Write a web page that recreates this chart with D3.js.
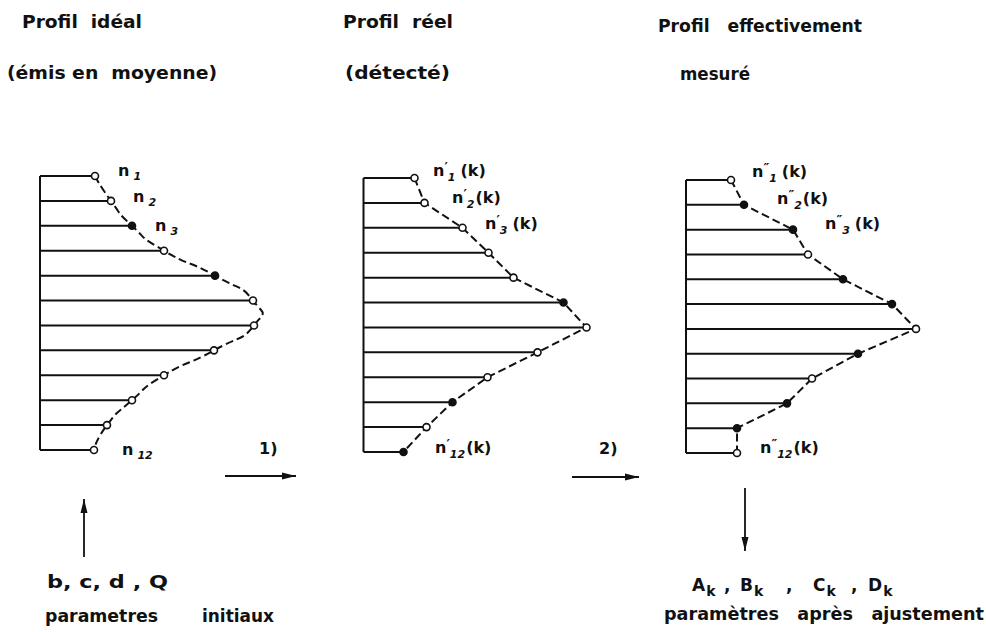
<!DOCTYPE html>
<html>
<head>
<meta charset="utf-8">
<script src="https://cdn.jsdelivr.net/npm/d3@7"></script>
<style>
  body { margin: 0; background: #fff; }
  svg { display: block; }
  text { font-family: "DejaVu Sans", sans-serif; font-weight: bold; fill: #111; }
</style>
</head>
<body>
<script>
// 12 channels, lengths (same units for the three profiles)
const rows = d3.range(1, 13)

const idealValues = [55, 71, 92, 124, 175, 213, 214, 174, 124, 92, 67, 54]
const idealFilled = [0, 0, 1, 0, 1, 0, 0, 0, 0, 0, 0, 0]

const detectedValues = [51, 61, 99, 125, 150, 200, 223, 174, 124, 89, 63, 40]
const detectedFilled = [0, 0, 0, 0, 0, 1, 0, 0, 0, 1, 0, 1]

const measuredValues = [45, 58, 107, 122, 157, 206, 230, 172, 126, 101, 51, 51]
const measuredFilled = [0, 1, 1, 0, 1, 1, 0, 1, 0, 1, 1, 0]

const titles = [
  ['Profil  idéal', '(émis en  moyenne)'],
  ['Profil  réel', '(détecté)'],
  ['Profil   effectivement', 'mesuré'],
]
const pointLabels = [
  { sym: 'n', prime: '', subs: ['1', '2', '3', '12'], suffix: '' },
  { sym: 'n', prime: '′', subs: ['1', '2', '3', '12'], suffix: '(k)' },
  { sym: 'n', prime: '″', subs: ['1', '2', '3', '12'], suffix: '(k)' },
]
const inputParams = 'b, c, d , Q'
const outputParams = ['A', 'B', 'C', 'D']

const WIDTH = 986
const HEIGHT = 632

const svg = d3.select('body').append('svg')
  .attr('width', WIDTH)
  .attr('height', HEIGHT)

const defs = svg.append('defs')
defs.append('marker')
  .attr('id', 'head')
  .attr('viewBox', '0 0 14 8')
  .attr('refX', 14)
  .attr('refY', 4)
  .attr('markerWidth', 14)
  .attr('markerHeight', 8)
  .attr('markerUnits', 'userSpaceOnUse')
  .attr('orient', 'auto')
  .append('path')
  .attr('d', 'M0,0.5 L14,4 L0,7.5 Z')
  .attr('fill', '#111')

const x = d3.scaleLinear().domain([0, 240]).range([0, 240])

const panels = [
  { values: idealValues, filled: idealFilled, axis: 40, top: 176, bottom: 450,
    curve: d3.curveCardinal.tension(-0.9),
    labels: [[118, 172], [133, 198], [155, 227], [122, 451]] },
  { values: detectedValues, filled: detectedFilled, axis: 363.5, top: 178, bottom: 452,
    curve: d3.curveLinear,
    labels: [[433, 172], [452, 199], [485, 225], [435, 449]] },
  { values: measuredValues, filled: measuredFilled, axis: 686, top: 180, bottom: 453,
    curve: d3.curveLinear,
    labels: [[752, 173], [777, 200], [825, 225], [760, 449]] },
]

panels.forEach((p, pi) => {
  const y = d3.scalePoint().domain(rows).range([p.top, p.bottom])
  const g = svg.append('g').attr('transform', `translate(${p.axis},0)`)
  const pts = rows.map((r, i) => ({ r, v: p.values[i], f: p.filled[i] }))

  g.append('line')
    .attr('x1', 0).attr('x2', 0)
    .attr('y1', y(1)).attr('y2', y(12))
    .attr('stroke', '#111').attr('stroke-width', 2)

  g.selectAll('line.bar')
    .data(pts)
    .enter()
    .append('line')
    .attr('class', 'bar')
    .attr('x1', 0)
    .attr('x2', d => x(d.v))
    .attr('y1', d => y(d.r))
    .attr('y2', d => y(d.r))
    .attr('stroke', '#111')
    .attr('stroke-width', 2)

  const line = d3.line()
    .x(d => x(d.v))
    .y(d => y(d.r))
    .curve(p.curve)

  g.append('path')
    .datum(pts)
    .attr('d', line)
    .attr('fill', 'none')
    .attr('stroke', '#111')
    .attr('stroke-width', 2)
    .attr('stroke-dasharray', '8,4')

  g.selectAll('circle')
    .data(pts)
    .enter()
    .append('circle')
    .attr('cx', d => x(d.v))
    .attr('cy', d => y(d.r))
    .attr('r', 3.5)
    .attr('fill', d => d.f ? '#111' : '#fff')
    .attr('stroke', '#111')
    .attr('stroke-width', 1.6)

  // n labels
  const lab = pointLabels[pi]
  lab.subs.forEach((s, i) => {
    const [lx, ly] = p.labels[i]
    const t = svg.append('text')
      .attr('x', lx)
      .attr('y', ly + 4)
      .attr('font-size', 16)
    t.append('tspan').text(lab.sym)
    if (lab.prime) {
      t.append('tspan').attr('font-size', 13).attr('dy', -5).attr('dx', 0).text(lab.prime)
      t.append('tspan').attr('font-size', 11).attr('font-style', 'italic')
        .attr('dx', 0).attr('dy', 10).text(s)
      t.append('tspan').attr('font-size', 16).attr('dy', -5)
        .attr('dx', i === 0 || i === 2 ? 5 : 1).text(lab.suffix)
    } else {
      t.append('tspan').attr('font-size', 11).attr('font-style', 'italic')
        .attr('dx', 4).attr('dy', 4).text(s)
    }
  })

  // titles
  const tx = [[22, 7], [343, 345], [658, 680]][pi]
  const tw = [[120, 210], [110, 105], [204, 70]][pi]
  const ty = [[28, 79], [28, 79], [32, 80]][pi]
  titles[pi].forEach((s, i) => {
    svg.append('text')
      .attr('x', tx[i])
      .attr('y', ty[i])
      .attr('font-size', 17)
      .attr('textLength', tw[i])
      .attr('lengthAdjust', 'spacingAndGlyphs')
      .attr('xml:space', 'preserve')
      .text(s)
  })
})

// step numbers and arrows
svg.append('text').attr('x', 259).attr('y', 454).attr('font-size', 16).text('1)')
svg.append('text').attr('x', 599).attr('y', 454).attr('font-size', 16).text('2)')

const arrows = [
  [225, 476, 296, 476],
  [572, 477, 639, 477],
  [84, 557, 84, 499],
  [745, 488, 745, 551],
]
svg.selectAll('line.arrow')
  .data(arrows)
  .enter()
  .append('line')
  .attr('class', 'arrow')
  .attr('x1', d => d[0]).attr('y1', d => d[1])
  .attr('x2', d => d[2]).attr('y2', d => d[3])
  .attr('stroke', '#111')
  .attr('stroke-width', 1.8)
  .attr('marker-end', 'url(#head)')

// bottom parameters
svg.append('text')
  .attr('x', 47).attr('y', 588)
  .attr('font-size', 17)
  .attr('textLength', 121)
  .attr('lengthAdjust', 'spacingAndGlyphs')
  .attr('xml:space', 'preserve')
  .text(inputParams)

svg.append('text')
  .attr('x', 45).attr('y', 622)
  .attr('font-size', 17)
  .attr('textLength', 113)
  .attr('lengthAdjust', 'spacingAndGlyphs')
  .text('parametres')

svg.append('text')
  .attr('x', 202).attr('y', 622)
  .attr('font-size', 17)
  .attr('textLength', 72)
  .attr('lengthAdjust', 'spacingAndGlyphs')
  .text('initiaux')

const outX = [692, 740, 813, 868]
const commaX = [724, 786, 851]
outputParams.forEach((s, i) => {
  const t = svg.append('text')
    .attr('x', outX[i]).attr('y', 591)
    .attr('font-size', 17)
  t.append('tspan').text(s)
  t.append('tspan').attr('font-size', 14).attr('dy', 5).attr('dx', 1).text('k')
  if (i < commaX.length) {
    svg.append('text')
      .attr('x', commaX[i]).attr('y', 591)
      .attr('font-size', 17)
      .text(',')
  }
})

svg.append('text')
  .attr('x', 664).attr('y', 620)
  .attr('font-size', 17)
  .attr('textLength', 320)
  .attr('lengthAdjust', 'spacingAndGlyphs')
  .attr('xml:space', 'preserve')
  .text('paramètres   après   ajustement')
</script>
</body>
</html>
